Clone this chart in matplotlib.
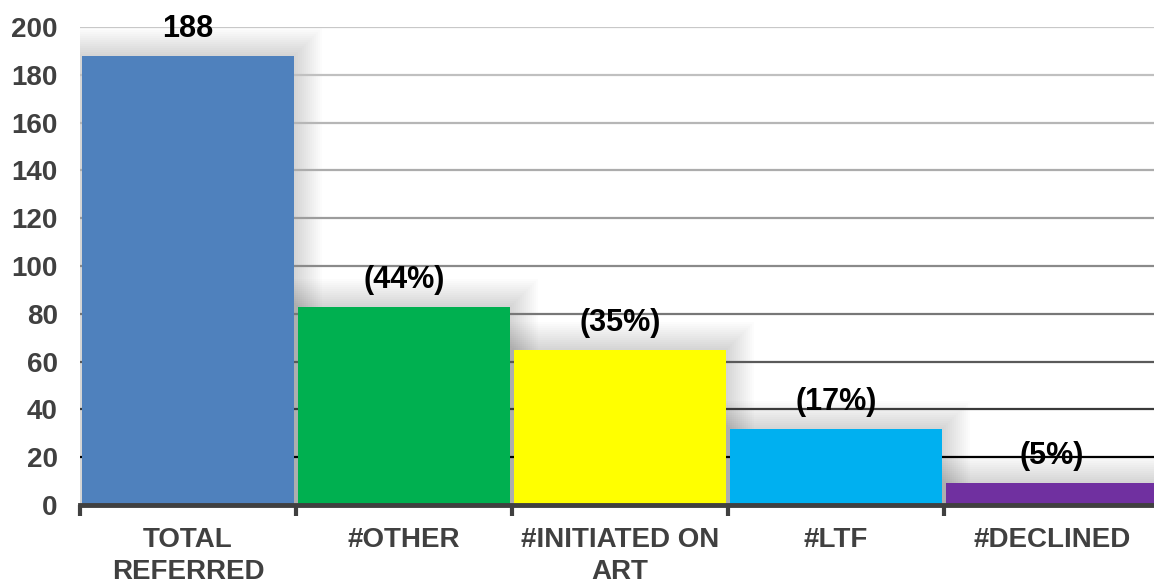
import matplotlib
matplotlib.use("Agg")
import matplotlib.pyplot as plt
from matplotlib.patches import Rectangle
import numpy as np

categories = ["TOTAL\nREFERRED", "#OTHER", "#INITIATED ON\nART", "#LTF", "#DECLINED"]
values = [188, 83, 65, 32, 9]
labels = ["188", "(44%)", "(35%)", "(17%)", "(5%)"]
yticks = [0, 20, 40, 60, 80, 100, 120, 140, 160, 180, 200]
colors = ["#4F81BD", "#00B050", "#FFFF00", "#00B0F0", "#7030A0"]

W, H = 1154, 583
fig = plt.figure(figsize=(W / 100, H / 100), dpi=100)
ax_left, ax_right = 80, 1160
ax_bottom, ax_top = 505, 27
ax = fig.add_axes([ax_left / W, (H - ax_bottom) / H,
                   (ax_right - ax_left) / W, (ax_bottom - ax_top) / H])
ax.set_xlim(0, len(categories))
ax.set_ylim(0, 200)

px_x = len(categories) / (ax_right - ax_left)
px_y = 200 / (ax_bottom - ax_top)

# gridlines with gradient from light gray (top) to black (bottom)
grid_cols = {20: "#000000", 40: "#3a3a3a", 60: "#5a5a5a", 80: "#777777",
             100: "#8a8a8a", 120: "#9c9c9c", 140: "#acacac", 160: "#b6b6b6",
             180: "#c0c0c0", 200: "#c8c8c8"}
for t in yticks[1:]:
    ax.axhline(t, color=grid_cols[t], lw=1.6, zorder=1)

x = np.arange(len(categories)) + 0.5
bw = 0.98

# soft glow shadows
for xi, v in zip(x, values):
    for k in range(14, 0, -1):
        r = k * 2.0
        ax.add_patch(Rectangle((xi - bw / 2 - r * px_x, 0), bw + 2 * r * px_x,
                               v + r * px_y, facecolor="#000000", alpha=0.010,
                               edgecolor="none", zorder=0.5))

ax.bar(x, values, width=bw, color=colors, zorder=2)

for xi, v, lab in zip(x, values, labels):
    ax.text(xi, v + 27 * px_y, lab, ha="center", va="center", fontsize=22,
            fontweight="bold", family="Liberation Sans", color="black", zorder=3,
            clip_on=False)

for s in ["left", "right", "top"]:
    ax.spines[s].set_visible(False)
ax.spines["bottom"].set_color("#404040")
ax.spines["bottom"].set_linewidth(3.5)
ax.spines["bottom"].set_zorder(4)

ax.set_yticks(yticks)
ax.set_yticklabels([str(t) for t in yticks], fontsize=20, fontweight="bold",
                   family="Liberation Sans", color="#404040")
ax.tick_params(axis="y", length=0, pad=16)

ax.set_xticks(np.arange(len(categories) + 1), minor=False)
ax.set_xticklabels([])
ax.tick_params(axis="x", which="major", length=8, width=3, color="#404040",
               direction="out")
ax.set_xticks(x, minor=True)
ax.set_xticklabels(categories, minor=True, fontsize=20, fontweight="bold",
                   family="Liberation Sans", color="#404040", linespacing=1.28)
ax.tick_params(axis="x", which="minor", length=0, pad=16)

fig.savefig("out.png", dpi=100, facecolor="white")
